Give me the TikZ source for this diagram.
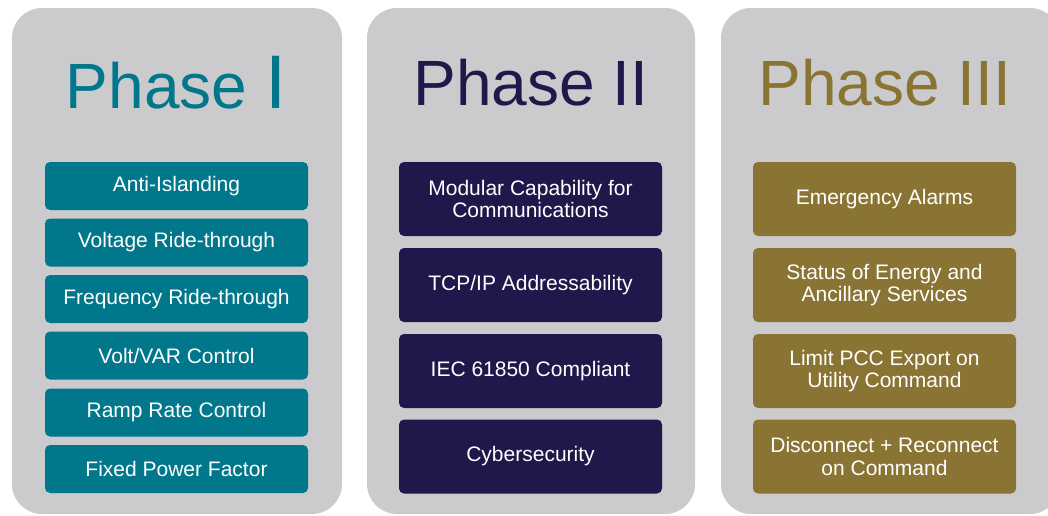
\documentclass[tikz,border=0pt]{standalone}
\usepackage{fontspec}
\setmainfont{Liberation Sans}
\usetikzlibrary{positioning}

\definecolor{panelgray}{RGB}{203,203,205}
\definecolor{phaseteal}{RGB}{0,119,138}
\definecolor{phasenavy}{RGB}{34,23,74}
\definecolor{phasegold}{RGB}{138,116,52}

\tikzset{
  panel/.style={fill=panelgray, rounded corners=30pt},
  phasetitle/.style={anchor=base, inner sep=0pt, font=\fontsize{64}{64}\selectfont},
  itembox/.style={fill=#1, rounded corners=5pt, text=white, align=center,
    minimum width=263pt, inner sep=0pt, font=\fontsize{21}{22.5}\selectfont},
  shortbox/.style={itembox=#1, minimum height=48pt},
  tallbox/.style={itembox=#1, minimum height=74pt}
}

\begin{document}
\begin{tikzpicture}[x=1pt,y=-1pt]
			\useasboundingbox (0,0) rectangle (1048,515);
			\fill[white] (0,0) rectangle (1048,515);
			% the three panels
			\fill[panel] (12,8) rectangle (342,514);
			\fill[panel] (367,8) rectangle (695,514);
			\fill[panel] (721,8) rectangle (1060,514);
			% titles
			\node[phasetitle, text=phaseteal] (titleI) at (176,108) {Phase {\fontsize{76}{76}\selectfont I}};
			\node[phasetitle, text=phasenavy] (titleII) at (531,105) {Phase II};
			\node[phasetitle, text=phasegold] (titleIII) at (885,105) {Phase III};
			% phase I
			\node[shortbox=phaseteal] (antiisl) at (176.5,186) {Anti-Islanding};
			\node[shortbox=phaseteal] (voltride) at (176.5,242.5) {Voltage Ride-through};
			\node[shortbox=phaseteal] (freqride) at (176.5,299) {Frequency Ride-through};
			\node[shortbox=phaseteal] (voltvar) at (176.5,355.5) {Volt/VAR Control};
			\node[shortbox=phaseteal] (ramprate) at (176.5,412.5) {Ramp Rate Control};
			\node[shortbox=phaseteal] (fixedpf) at (176.5,469) {Fixed Power Factor};
			% phase II
			\node[tallbox=phasenavy] (modular) at (530.5,199) {Modular Capability for\\Communications};
			\node[tallbox=phasenavy] (tcpip) at (530.5,285) {TCP/IP Addressability};
			\node[tallbox=phasenavy] (iec) at (530.5,371) {IEC 61850 Compliant};
			\node[tallbox=phasenavy] (cyber) at (530.5,456.5) {Cybersecurity};
			% phase III
			\node[tallbox=phasegold] (alarms) at (884.5,199) {Emergency Alarms};
			\node[tallbox=phasegold] (status) at (884.5,285) {Status of Energy and\\Ancillary Services};
			\node[tallbox=phasegold] (pcc) at (884.5,371) {Limit PCC Export on\\Utility Command};
			\node[tallbox=phasegold] (disconn) at (884.5,456.5) {Disconnect + Reconnect\\on Command};
		\end{tikzpicture}
\end{document}
